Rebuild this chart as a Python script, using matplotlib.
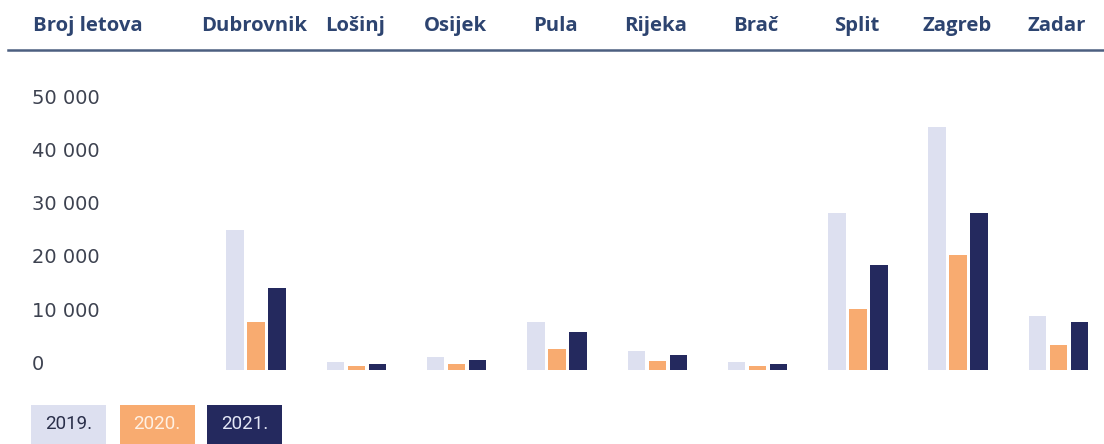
import matplotlib
matplotlib.use("Agg")
import matplotlib.pyplot as plt
import matplotlib.transforms as mtransforms
from matplotlib.patches import Rectangle
import numpy as np

# ---- data ----
airports = ["Dubrovnik", "Lošinj", "Osijek", "Pula", "Rijeka", "Brač", "Split", "Zagreb", "Zadar"]
years = ["2019.", "2020.", "2021."]
flights_2019 = [26200, 1550, 2400, 8950, 3500, 1550, 29400, 45500, 10100]
flights_2020 = [9050, 800, 1200, 3950, 1650, 800, 11400, 21600, 4700]
flights_2021 = [15300, 1200, 1950, 7050, 2750, 1200, 19650, 29400, 9050]
y_ticks = [0, 10000, 20000, 30000, 40000, 50000]
y_tick_labels = ["0", "10 000", "20 000", "30 000", "40 000", "50 000"]
header_first = "Broj letova"

colors = ["#dde0f0", "#f8ab70", "#24295e"]
legend_text_colors = ["#2a2f4a", "#fff1e4", "#e4e7f6"]
header_color = "#2d4470"
label_color = "#3d4250"

W, H = 1104, 444
fig = plt.figure(figsize=(W / 100, H / 100), dpi=100)
plt.rcParams["font.family"] = ["Open Sans", "DejaVu Sans"]

# axes placement in pixel coordinates
base_px = 370.0
top_px = 370.0 - 5.33 * 50
ax_left_px, ax_right_px = 200.0, 1100.0
ax = fig.add_axes([ax_left_px / W, 1 - base_px / H, (ax_right_px - ax_left_px) / W, (base_px - top_px) / H])
ax.set_ylim(0, 50000)
first_c, last_c = 256.0, 1058.5
unit = (last_c - first_c) / (len(airports) - 1)
ax.set_xlim(-(first_c - ax_left_px) / unit, (len(airports) - 1) + (ax_right_px - last_c) / unit)
ax.axis("off")

x = np.arange(len(airports))
bw = 17.5 / unit
step = 21.0 / unit
for i, (vals, c) in enumerate(zip([flights_2019, flights_2020, flights_2021], colors)):
    ax.bar(x + (i - 1) * step, vals, width=bw, color=c, edgecolor="none")

# y tick labels (left aligned, bottom on value)
trans = mtransforms.blended_transform_factory(fig.transFigure, ax.transData)
for v, lab in zip(y_ticks, y_tick_labels):
    ax.text(32 / W, v, lab, transform=trans, ha="left", va="baseline",
            fontsize=14, color=label_color, clip_on=False, family=["DejaVu Sans"])

# header row
hdr_y = 1 - 31 / H
fig.text(33 / W, hdr_y, header_first, ha="left", va="baseline", fontsize=14.6,
         fontweight="bold", color=header_color)
header_trans = mtransforms.blended_transform_factory(ax.transData, fig.transFigure)
hdr_offset = -1.5 / unit
for i, name in enumerate(airports):
    ax.text(i + hdr_offset, hdr_y, name, transform=header_trans, ha="center", va="baseline",
            fontsize=14.6, fontweight="bold", color=header_color, clip_on=False)

# separator line under header
fig.add_artist(plt.Line2D([8 / W, 1.0], [1 - 50.5 / H, 1 - 50.5 / H], color="#4c5f80", lw=1.8))

# legend boxes
box_lefts = [31, 119.5, 207]
box_w = 75
for lx, c, yr, tc in zip(box_lefts, colors, years, legend_text_colors):
    fig.add_artist(Rectangle((lx / W, 0), box_w / W, (H - 405) / H, transform=fig.transFigure,
                             facecolor=c, edgecolor="none"))
    fig.text((lx + box_w / 2) / W, 1 - 424 / H, yr, ha="center", va="center",
             fontsize=13.5, color=tc, family=["Roboto", "DejaVu Sans"])

fig.savefig("out.png", dpi=100)
